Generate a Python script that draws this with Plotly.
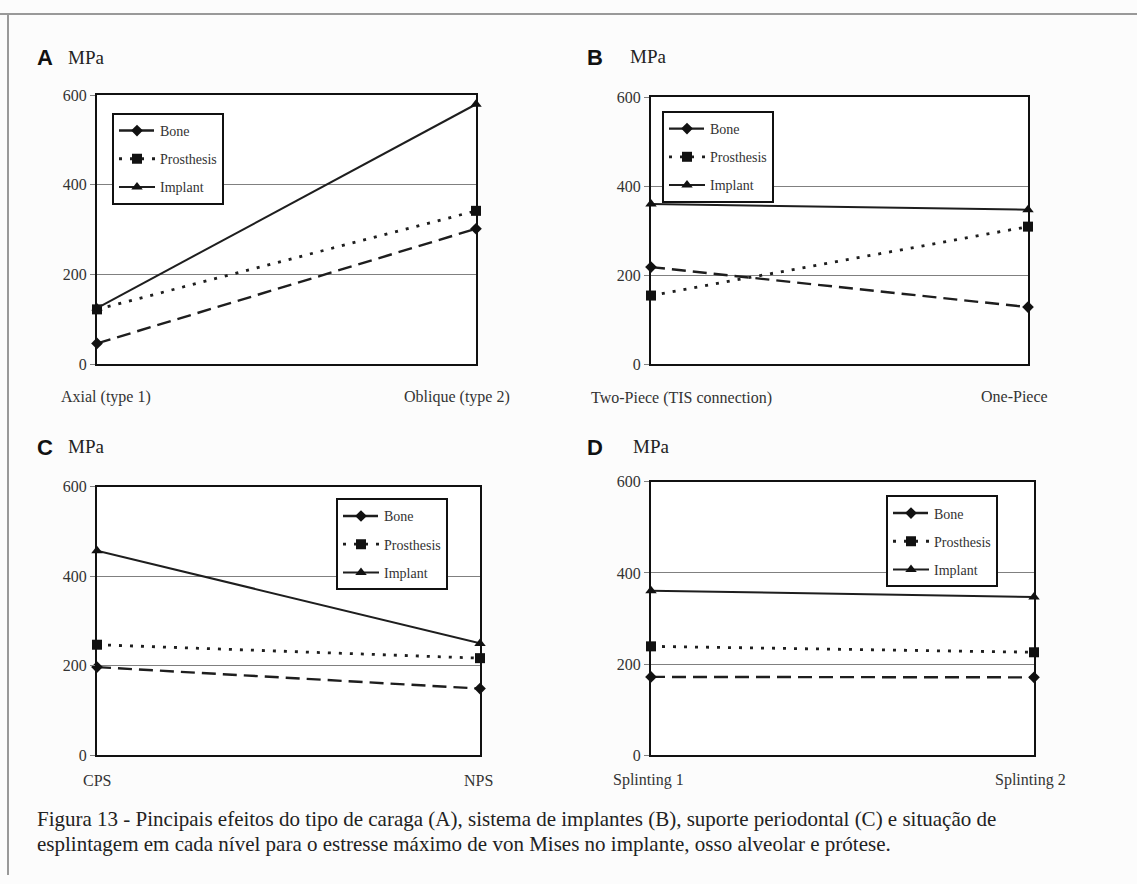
import plotly.graph_objects as go

W, H = 1137, 884

# ---- data ----
cats_a = ["Axial (type 1)", "Oblique (type 2)"]
cats_b = ["Two-Piece (TIS connection)", "One-Piece"]
cats_c = ["CPS", "NPS"]
cats_d = ["Splinting 1", "Splinting 2"]

bone_a = [46, 302]
prosthesis_a = [122, 342]
implant_a = [125, 580]

bone_b = [218, 128]
prosthesis_b = [154, 309]
implant_b = [360, 347]

bone_c = [197, 149]
prosthesis_c = [247, 217]
implant_c = [457, 250]

bone_d = [172, 171]
prosthesis_d = [239, 226]
implant_d = [361, 347]

y_ticks = [0, 200, 400, 600]
panel_letters = ["A", "B", "C", "D"]
unit_label = "MPa"
caption_lines = [
    "Figura 13 - Pincipais efeitos do tipo de caraga (A), sistema de implantes (B), suporte periodontal (C) e situação de",
    "esplintagem em cada nível para o estresse máximo de von Mises no implante, osso alveolar e prótese.",
]

panels = [
    (cats_a, bone_a, prosthesis_a, implant_a),
    (cats_b, bone_b, prosthesis_b, implant_b),
    (cats_c, bone_c, prosthesis_c, implant_c),
    (cats_d, bone_d, prosthesis_d, implant_d),
]

# ---- layout geometry (window pixels) ----
boxes = [  # x0, x1, ytop, ybottom
    (97, 476, 89, 363),
    (651, 1028, 91, 363),
    (97, 480, 488, 762),
    (651, 1034, 483, 762),
]
legend_pos = [(112, 107), (662, 105), (336, 500), (886, 497)]
letter_pos = [(45, 50, 86, 50), (595, 50, 648, 49), (45, 448, 86, 447), (595, 448, 651, 447)]
xlabel_pos = [((106, 397), (457, 397)), ((681, 398), (1014, 396)),
              ((97, 788), (478, 788)), ((648, 787), (1030, 787))]

SERIF = "Liberation Serif"
INK = "#1e1e1e"

def px(x):
    return x / W

def py(y):
    return 1 - y / H

fig = go.Figure()

series_styles = [
    ("Bone", "14px,7px", "diamond", 9, 2.4),
    ("Prosthesis", "3px,8px", "square", 10, 2.8),
    ("Implant", "solid", "triangle-up", 10, 2),
]

annotations = []
for i, (cats, bone, pros, impl) in enumerate(panels):
    n = "" if i == 0 else str(i + 1)
    xa, ya = "x" + n, "y" + n
    leg = "legend" + n
    for (name, dash, sym, msize, lw), vals in zip(series_styles, [bone, pros, impl]):
        fig.add_trace(go.Scatter(
            x=cats, y=vals, mode="lines+markers", name=name,
            line=dict(color=INK, dash=dash, width=lw),
            marker=dict(symbol=sym, size=msize, color="#111111"),
            xaxis=xa, yaxis=ya, legend=leg, legendgroup=name + n,
            cliponaxis=False,
        ))
    x0, x1, yt, yb = boxes[i]
    fig.layout["xaxis" + n] = dict(
        domain=[px(x0), px(x1)], anchor=ya, type="category", range=[0, 1],
        showticklabels=False, showgrid=False, zeroline=False,
        showline=True, mirror=True, linecolor="#111111", linewidth=2,
        ticks="",
    )
    fig.layout["yaxis" + n] = dict(
        domain=[py(yb), py(yt)], anchor=xa, range=[0, 600],
        tickvals=y_ticks, showgrid=True, gridcolor="#808080", gridwidth=1,
        zeroline=False, showline=True, mirror=True, linecolor="#111111",
        linewidth=2, ticks="outside", ticklen=5, tickcolor="#808080",
        tickfont=dict(family=SERIF, size=16, color="#333333"),
    )
    lx, ly = legend_pos[i]
    fig.layout[leg] = dict(
        x=px(lx), y=py(ly), xanchor="left", yanchor="top",
        bgcolor="#ffffff", bordercolor="#111111", borderwidth=2,
        font=dict(family=SERIF, size=14, color="#333333"),
        tracegroupgap=7, itemwidth=36,
    )
    lxp, lyp, mxp, myp = letter_pos[i]
    annotations.append(dict(x=px(lxp), y=py(lyp), xref="paper", yref="paper",
                            xanchor="center", yanchor="middle",
                            text="<b>" + panel_letters[i] + "</b>", showarrow=False,
                            font=dict(family="Liberation Sans", size=22, color="#111111")))
    annotations.append(dict(x=px(mxp), y=py(myp), xref="paper", yref="paper",
                            xanchor="center", yanchor="middle",
                            text=unit_label, showarrow=False,
                            font=dict(family=SERIF, size=19, color="#222222")))
    for cat, (cx, cy) in zip(cats, xlabel_pos[i]):
        annotations.append(dict(x=px(cx), y=py(cy), xref="paper", yref="paper",
                                xanchor="center", yanchor="middle",
                                text=cat, showarrow=False,
                                font=dict(family=SERIF, size=16, color="#333333")))

for line, yy in zip(caption_lines, [827, 852]):
    annotations.append(dict(x=px(35), y=py(yy), xref="paper", yref="paper",
                            xanchor="left", yanchor="middle", text=line, showarrow=False,
                            font=dict(family=SERIF, size=21, color="#222222")))

shapes = [
    dict(type="line", xref="paper", yref="paper", x0=0, x1=1, y0=py(6), y1=py(6),
         line=dict(color="#999999", width=2)),
    dict(type="line", xref="paper", yref="paper", x0=px(8), x1=px(8), y0=py(6), y1=0,
         line=dict(color="#999999", width=2)),
]

fig.update_layout(
    width=W, height=H, margin=dict(l=0, r=0, t=0, b=0),
    paper_bgcolor="#fcfcfc", plot_bgcolor="#ffffff",
    annotations=annotations, shapes=shapes, showlegend=True,
)

fig.write_html(
    "out.html",
    config={"displayModeBar": False},
    post_script="document.body.style.margin='0';document.body.style.overflow='hidden';",
)
